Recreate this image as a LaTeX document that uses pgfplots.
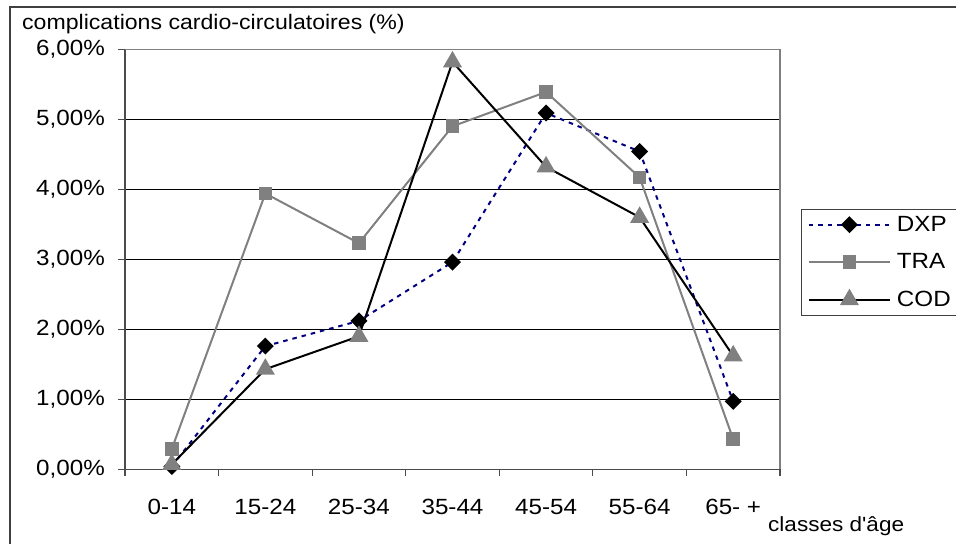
\documentclass[border=0pt]{standalone}
\usepackage{pgfplots}
\pgfplotsset{compat=1.18}
\usepackage{fontspec}
\setmainfont{Liberation Sans}[FakeStretch=1.1]
\newfontfamily\plainfont{Liberation Sans}[FakeStretch=1.1]
\definecolor{xlgray}{RGB}{128,128,128}
\definecolor{xlnavy}{RGB}{0,0,128}
\newcommand{\fs}[1]{\fontsize{#1}{#1}\selectfont}

\begin{document}
\begin{tikzpicture}
\path[use as bounding box] (-125bp,-74.7bp) rectangle (831bp,469.3bp);
\draw[black!75, line width=1.5bp] (-115bp,-80bp) -- (-115bp,462.3bp) -- (840bp,462.3bp);
\node[anchor=base west, font=\fs{21bp}, inner sep=0pt] at (-103bp,439.3bp) {complications cardio-circulatoires (\%)};
\node[anchor=base west, font=\plainfont\fs{20.5bp}, inner sep=0pt] at (643bp,-61.7bp) {classes d'âge};
\begin{axis}[
  at={(0,0)}, anchor=south west,
  scale only axis, width=655bp, height=420bp,
  xmin=0, xmax=7, ymin=0, ymax=6,
  clip=false,
  axis lines=left,
  axis line style={-, draw=black!70, line width=1.5bp},
  ytick={0,1,2,3,4,5,6},
  yticklabels={{0,00\%},{1,00\%},{2,00\%},{3,00\%},{4,00\%},{5,00\%},{6,00\%}},
  xtick={0,1,2,3,4,5,6,7},
  xticklabels={},
  extra x ticks={0.5,1.5,2.5,3.5,4.5,5.5,6.5},
  extra x tick labels={0-14,15-24,25-34,35-44,45-54,55-64,65- +},
  extra x tick style={major tick length=0pt, grid=none},
  tick align=outside, major tick length=7bp,
  tick style={draw=black!70, line width=1.2bp},
  ymajorgrids, grid style={black, line width=0.9bp},
  tick label style={font=\fs{22bp}},
  xticklabel style={anchor=base, inner sep=0pt, yshift=-44.7bp},
  yticklabel style={anchor=east, inner sep=0pt, xshift=-13bp},
  legend style={at={(1.032,0.620)}, anchor=north west, draw=black!75, line width=1bp,
    fill=white, font=\fs{22bp}, inner xsep=6.5bp, inner ysep=7bp, row sep=20.5bp,
    nodes={inner sep=0pt},
    /tikz/every odd column/.append style={column sep=6bp}},
  legend cell align=left,
  legend image code/.code={\draw[mark repeat=2,mark phase=2,#1] plot coordinates {(0bp,0bp) (40.5bp,0bp) (81bp,0bp)};},
]
\addplot[xlnavy, line width=2bp, dash pattern=on 4.5bp off 5bp, mark=square*, mark size=5bp,
  mark options={solid, fill=black, draw=black, rotate=45}]
  coordinates {(0.5,0.04) (1.5,1.76) (2.5,2.12) (3.5,2.96) (4.5,5.09) (5.5,4.54) (6.5,0.97)};
\addlegendentry{DXP}
\addplot[xlgray, line width=2bp, mark=square*, mark size=5.8bp,
  mark options={solid, fill=xlgray, draw=xlgray}]
  coordinates {(0.5,0.29) (1.5,3.94) (2.5,3.23) (3.5,4.90) (4.5,5.39) (5.5,4.17) (6.5,0.43)};
\addlegendentry{TRA}
\addplot[black, line width=2bp, mark=triangle*, mark size=9bp,
  mark options={solid, fill=xlgray, draw=xlgray}]
  coordinates {(0.5,0.07) (1.5,1.43) (2.5,1.90) (3.5,5.82) (4.5,4.32) (5.5,3.60) (6.5,1.62)};
\addlegendentry{COD}
\draw[xlgray, line width=1.5bp] (rel axis cs:0,1) -- (rel axis cs:1,1) -- (rel axis cs:1,0);
\end{axis}
\end{tikzpicture}
\end{document}
